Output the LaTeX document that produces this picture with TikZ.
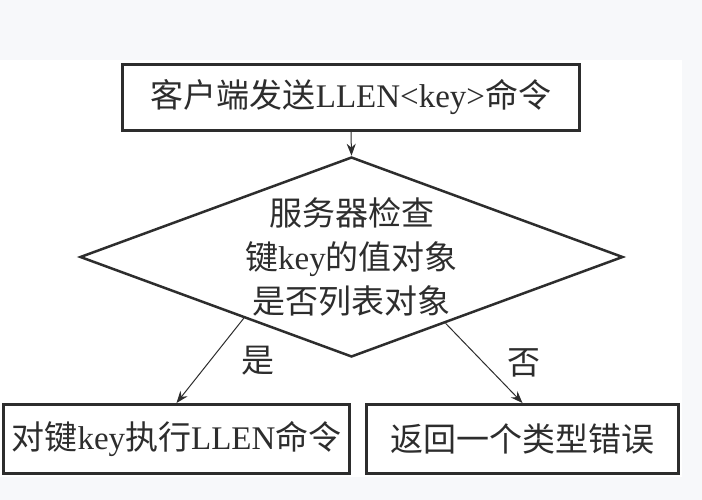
\documentclass[tikz,border=0pt]{standalone}
\usepackage{fontspec}
\setmainfont{Liberation Serif}
\newfontfamily\cjk{Noto Sans CJK SC}
\newcommand{\zh}[1]{{\cjk #1}}
\usepackage{tikz}
\usetikzlibrary{calc,arrows.meta,shapes.geometric,positioning}
\definecolor{pagegray}{RGB}{247,248,250}
\definecolor{linegray}{RGB}{45,45,45}
\tikzset{
  box/.style={draw=linegray, line width=3pt, inner sep=0pt, minimum height=66pt},
  flow/.style={draw=linegray, line width=1pt, -{Stealth[length=12pt,width=9pt]}},
  txt/.style={font=\fontsize{33}{44}\selectfont, text=linegray}
}

\begin{document}
\begin{tikzpicture}[x=1pt, y=-1pt, txt]
\useasboundingbox (0,0) rectangle (702,500);
\fill[pagegray] (0,0) rectangle (702,500);
\fill[white] (0,60) rectangle (682,477);
\node[box, minimum width=457pt] (send) at (351,97.5) {\zh{客户端发送}LLEN<key>\zh{命令}};
\node[diamond, draw=linegray, line width=2.5pt, inner sep=0pt,
      minimum width=543pt, minimum height=200pt] (check) at (351.5,257) {};
\node[align=center, inner sep=0pt] (checktext) at (check.center)
  {\zh{服务器检查}\\\zh{键}key\zh{的值对象}\\\zh{是否列表对象}};
\node[box, minimum width=346pt, minimum height=69pt] (exec) at (176.5,439) {\zh{对键}key\zh{执行}LLEN\zh{命令}};
\node[box, minimum width=312pt, minimum height=69pt] (err) at (522.5,439) {\zh{返回一个类型错误}};
\draw[flow] (send.south) -- (check.north);
\draw[flow] ($(check.west)!0.605!(check.south)$) -- (exec.north)
  node[midway, right=31pt, inner sep=0pt] (yes) {\zh{是}};
\draw[flow] ($(check.south)!0.345!(check.east)$) -- (err.north)
  node[midway, right=23pt, inner sep=0pt] (no) {\zh{否}};
\end{tikzpicture}
\end{document}
